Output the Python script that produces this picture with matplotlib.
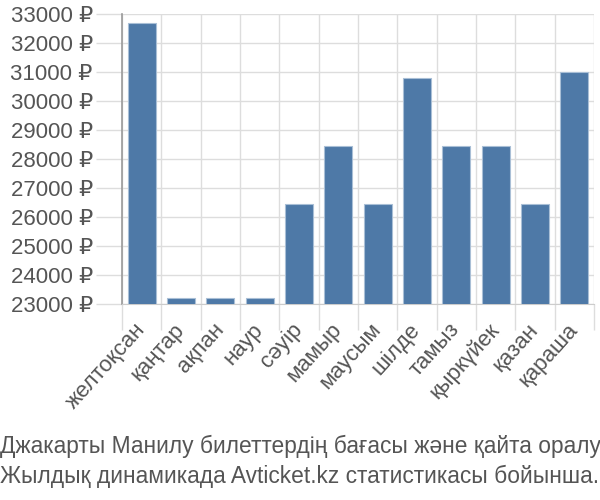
import matplotlib
matplotlib.use("Agg")
import matplotlib.pyplot as plt
import numpy as np

months = ["желтоқсан", "қаңтар", "ақпан", "наур", "сәуір", "мамыр", "маусым",
          "шілде", "тамыз", "қыркүйек", "қазан", "қараша"]
prices = [32700, 23200, 23200, 23200, 26450, 28450, 26450, 30800, 28450, 28450, 26450, 31000]
yticks = list(range(23000, 33001, 1000))
title_lines = ["Джакарты Манилу билеттердің бағасы және қайта оралу",
               "Жылдық динамикада Avticket.kz статистикасы бойынша."]

plt.rcParams['font.family'] = ['Liberation Sans', 'DejaVu Sans']

fig = plt.figure(figsize=(6, 5), dpi=100)
ax = fig.add_axes([122/600, 1-304/500, (594-122)/600, (304-14)/500])

x = np.arange(len(months))
ax.bar(x, prices, width=0.72, color="#4e79a7", edgecolor="#a9bfd6", linewidth=0.8, zorder=3)
ax.set_xlim(-0.5, len(months)-0.5)
ax.set_ylim(23000, 33000)
ax.set_yticks(yticks)
ax.set_yticklabels([f"{v} ₽" for v in yticks], fontsize=16, color="#555555")
ax.set_xticks(x)
ax.set_xticklabels(months, rotation=48, ha="right", va="center", rotation_mode="anchor",
                   fontsize=16, color="#555555")
ax.tick_params(axis="x", which="major", length=0, pad=16)
ax.set_xticks(np.arange(-0.5, len(months), 1), minor=True)
ax.tick_params(axis="x", which="minor", length=19, color="#dddddd", width=1)
ax.tick_params(axis="y", length=19, color="#dddddd", width=1, pad=2)
ax.grid(True, which="minor", axis="x", color="#dddddd", linewidth=1, zorder=0)
ax.grid(True, which="major", axis="y", color="#dddddd", linewidth=1, zorder=0)
for s in ["top", "right"]:
    ax.spines[s].set_visible(False)
ax.spines["left"].set_color("#999999")
ax.spines["left"].set_linewidth(1.2)
ax.spines["bottom"].set_color("#cccccc")

fig.text(0.0, 1-446/500, title_lines[0], fontsize=16.4, color="#555555", ha="left", va="center")
fig.text(0.0, 1-476/500, title_lines[1], fontsize=16.4, color="#555555", ha="left", va="center")

fig.savefig("out.png", dpi=100)
